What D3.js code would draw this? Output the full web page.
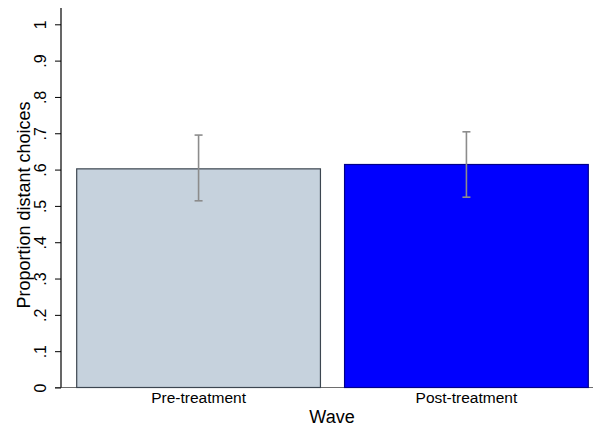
<!DOCTYPE html>
<html><head><meta charset="utf-8">
<script src="https://cdn.jsdelivr.net/npm/d3@7"></script>
<style>body{margin:0;background:#fff}svg{display:block}svg text{font-family:"Liberation Sans",Arial,sans-serif}</style>
</head><body>
<script>
const categories = ["Pre-treatment", "Post-treatment"];
const values = [0.602, 0.614];
const lower = [0.514, 0.524];
const upper = [0.695, 0.704];
const yTicks = [0, 0.1, 0.2, 0.3, 0.4, 0.5, 0.6, 0.7, 0.8, 0.9, 1];
const yTickLabels = ["0", ".1", ".2", ".3", ".4", ".5", ".6", ".7", ".8", ".9", "1"];
const fills = ["#c6d2dd", "#0000ff"];
const strokes = ["#3c4650", "#00008a"];

const W = 593, H = 427;
const svg = d3.select("body").append("svg").attr("width", W).attr("height", H);
const mLeft = 61, mRight = 592, mTop = 8;
const y = d3.scaleLinear().domain([0, 1]).range([387.5, 24.3]);
const x = d3.scaleBand().domain(categories).range([76.7, 588.3]).paddingInner(0.09).paddingOuter(0);

// x axis line
svg.append("line").attr("x1", 55).attr("x2", mRight + 1).attr("y1", y(0)).attr("y2", y(0))
  .attr("stroke", "#6e6e6e").attr("stroke-width", 1.2);

// bars
svg.selectAll("rect.bar").data(categories).enter().append("rect")
  .attr("x", d => x(d)).attr("width", x.bandwidth())
  .attr("y", (d, i) => y(values[i])).attr("height", (d, i) => y(0) - y(values[i]))
  .attr("fill", (d, i) => fills[i]).attr("stroke", (d, i) => strokes[i]).attr("stroke-width", 1.2);

// error bars
const eg = svg.append("g").attr("stroke", "#8c8c8c").attr("stroke-width", 1.6);
categories.forEach((c, i) => {
  const cx = x(c) + x.bandwidth() / 2;
  eg.append("line").attr("x1", cx).attr("x2", cx).attr("y1", y(lower[i])).attr("y2", y(upper[i]));
  eg.append("line").attr("x1", cx - 4).attr("x2", cx + 4).attr("y1", y(lower[i])).attr("y2", y(lower[i]));
  eg.append("line").attr("x1", cx - 4).attr("x2", cx + 4).attr("y1", y(upper[i])).attr("y2", y(upper[i]));
});

// y axis
const yAxis = d3.axisLeft(y).tickValues(yTicks).tickFormat((d, i) => yTickLabels[i]).tickSize(6).tickPadding(4);
const ga = svg.append("g").attr("transform", `translate(${mLeft},0)`).call(yAxis);
ga.attr("font-family", null).attr("font-size", null);
ga.select(".domain").remove();
ga.selectAll(".tick line").attr("stroke", "#000").attr("stroke-width", 1);
ga.selectAll(".tick text").style("font-size", "16px").attr("fill", "#000")
  .attr("text-anchor", "middle").attr("x", 0).attr("y", 0).attr("dy", 0)
  .attr("transform", "translate(-15,0) rotate(-90)");
svg.append("line").attr("x1", mLeft).attr("x2", mLeft).attr("y1", mTop).attr("y2", y(0))
  .attr("stroke", "#000").attr("stroke-width", 1.2);

// x labels
svg.selectAll("text.xl").data(categories).enter().append("text")
  .attr("x", d => x(d) + x.bandwidth() / 2).attr("y", 403).attr("text-anchor", "middle")
  .style("font-size", "15.5px").attr("fill", "#000").text(d => d);

svg.append("text").attr("x", 332).attr("y", 423).attr("text-anchor", "middle")
  .style("font-size", "18px").attr("fill", "#000").text("Wave");

svg.append("text").attr("transform", `translate(30,205) rotate(-90)`)
  .attr("text-anchor", "middle").style("font-size", "18px").attr("fill", "#000").text("Proportion distant choices");
</script>
</body></html>
